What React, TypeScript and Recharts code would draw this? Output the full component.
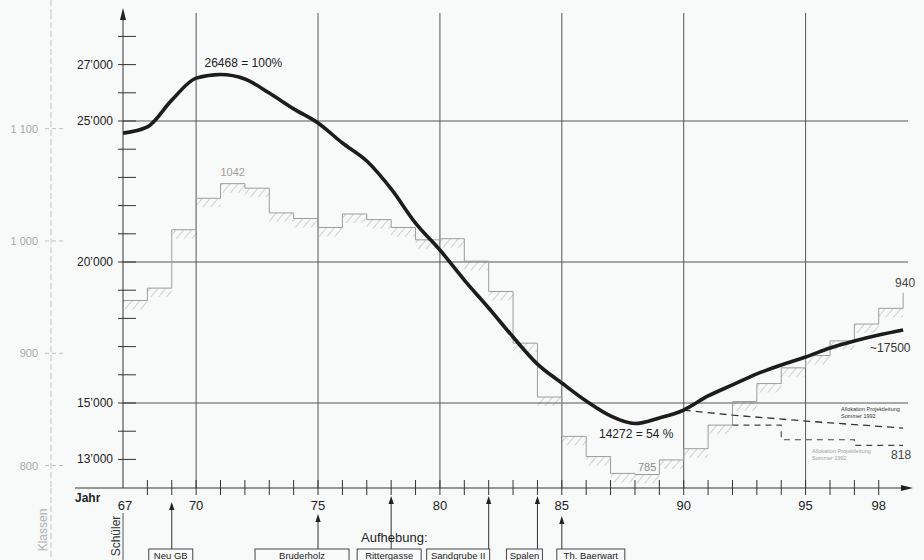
import React from 'react'
import {
  ComposedChart,
  Line,
  Area,
  XAxis,
  YAxis,
  ReferenceLine,
  ReferenceDot
} from 'recharts'

// Schuljahr (19xx)
const years = [67, 68, 69, 70, 71, 72, 73, 74, 75, 76, 77, 78, 79, 80, 81, 82, 83, 84, 85, 86, 87, 88, 89, 90, 91, 92, 93, 94, 95, 96, 97, 98, 99]
// Schülerzahl (linke Achse)
const schueler = [24570, 24790, 25740, 26520, 26650, 26490, 25990, 25430, 24930, 24220, 23580, 22590, 21380, 20425, 19360, 18370, 17340, 16380, 15710, 15070, 14540, 14272, 14470, 14750, 15250, 15640, 16030, 16350, 16630, 16950, 17200, 17410, 17590]
// Klassenzahl (äussere Achse), Treppe
const klassen = [947, 958, 1010, 1038, 1051, 1047, 1025, 1020, 1012, 1024, 1019, 1012, 1001, 1002, 982, 955, 909, 861, 826, 808, 793, 792, 805, 815, 836, 857, 873, 887, 898, 911, 926, 940, 954]

// Allokation Projektleitung Sommer 1992
const projSchuelerYears = [90, 92, 95, 99]
const projSchueler = [14750, 14570, 14360, 14110]
const projKlassenYears = [92, 94, 97, 99]
const projKlassen = [836, 823, 818, 818]

const yearTicks = [67, 68, 69, 70, 71, 72, 73, 74, 75, 76, 77, 78, 79, 80, 81, 82, 83, 84, 85, 86, 87, 88, 89, 90, 91, 92, 93, 94, 95, 96, 97, 98]
const yearLabels = [67, 70, 75, 80, 85, 90, 95, 98]
const gridYears = [70, 75, 80, 85, 90, 95]

const schuelerTicks = [13000, 14000, 15000, 16000, 17000, 18000, 19000, 20000, 21000, 22000, 23000, 24000, 25000, 26000, 27000, 28000]
const schuelerLabelValues = [13000, 15000, 20000, 25000, 27000]
const schuelerLabelTexts = ['13\u2019000', '15\u2019000', '20\u2019000', '25\u2019000', '27\u2019000']
const gridSchueler = [15000, 20000, 25000]

const klassenTicks = [800, 900, 1000, 1100]
const klassenLabelTexts = ['800', '900', '1 000', '1 100']

const events = [69, 75, 78, 82, 84, 85]
const eventLabels = ['Neu GB', 'Bruderholz', 'Rittergasse', 'Sandgrube II', 'Spalen', 'Th. Baerwart']

// box layout relative to the arrow (pixels)
const eventLayout: Record<string, { dx: number; w: number; tip: number }> = {
  'Neu GB': { dx: -23, w: 44, tip: 14 },
  'Bruderholz': { dx: -63, w: 94, tip: 26 },
  'Rittergasse': { dx: -34, w: 64, tip: 8 },
  'Sandgrube II': { dx: -62, w: 63, tip: 8 },
  'Spalen': { dx: -31, w: 36, tip: 8 },
  'Th. Baerwart': { dx: -5, w: 68, tip: 28 }
}

const FONT = '"Liberation Sans", Arial, Helvetica, sans-serif'
const INK = '#222'
const GREY = '#9c9c9c'
// axis ids: the inner axis (next to the plot) is the Schüler axis
const S = 'a'
const K = 'k'

const schuelerData = years.map((year, i) => ({ year, value: schueler[i] }))
const klassenData = years.map((year, i) => ({ year, value: klassen[i], band: [klassen[i] - 8, klassen[i]] }))
const projSchuelerData = projSchuelerYears.map((year, i) => ({ year, value: projSchueler[i] }))
const projKlassenData = projKlassenYears.map((year, i) => ({ year, value: projKlassen[i] }))

const valueAt = (arr: number[], yr: number) => arr[years.indexOf(yr)]

const YearTick = (props: any) => {
  const { x, y, payload } = props
  const v = payload.value
  return (
    <g>
      {v > 67 && <line x1={x} x2={x} y1={y - 8} y2={y + 7} stroke="#333" />}
      {yearLabels.includes(v) && (
        <text x={x + (v === 67 ? 2 : 0)} y={y + 22} textAnchor="middle" fontSize={13} fill={INK} fontFamily={FONT}>
          {v}
        </text>
      )}
    </g>
  )
}

const SchuelerTick = (props: any) => {
  const { x, y, payload } = props
  const idx = schuelerLabelValues.indexOf(payload.value)
  return (
    <g>
      <line x1={x - 5} x2={x + 13} y1={y} y2={y} stroke="#333" />
      {idx >= 0 && (
        <text x={x - 10} y={y} dy={4} textAnchor="end" fontSize={12} fill={INK} fontFamily={FONT}>
          {schuelerLabelTexts[idx]}
        </text>
      )}
    </g>
  )
}

const KlassenTick = (props: any) => {
  const { x, y, payload } = props
  const idx = klassenTicks.indexOf(payload.value)
  return (
    <g>
      <line x1={x - 6} x2={x + 15} y1={y} y2={y} stroke="#bdbdbd" strokeDasharray="4 3" />
      <text x={x - 13} y={y} dy={4} textAnchor="end" fontSize={11} fill="#a8a8a8" fontFamily={FONT}>
        {klassenLabelTexts[idx]}
      </text>
    </g>
  )
}

const note = (lines: string[], dx: number, dy: number, size: number, color: string, anchor = 'start', lineGap = 7) =>
  (p: any) => (
    <text x={p.cx + dx} y={p.cy + dy} fontSize={size} fill={color} textAnchor={anchor} fontFamily={FONT}>
      {lines.map((t, i) => (
        <tspan key={i} x={p.cx + dx} dy={i === 0 ? 0 : lineGap}>{t}</tspan>
      ))}
    </text>
  )

const eventShape = (label: string) => (p: any) => {
  const lay = eventLayout[label]
  const x = p.x1
  const base = Math.max(p.y1, p.y2)
  const tip = base + lay.tip
  const top = base + 61
  return (
    <g>
      <line x1={x} x2={x} y1={top} y2={tip + 6} stroke="#333" />
      <path d={`M${x},${tip} l-2.6,8 h5.2 z`} fill={INK} />
      <rect x={x + lay.dx} y={top} width={lay.w} height={20} fill="none" stroke="#444" />
      <text x={x + lay.dx + lay.w / 2} y={top + 10} textAnchor="middle" fontSize={9.5} fill={INK} fontFamily={FONT}>
        {label}
      </text>
    </g>
  )
}

export default function App() {
  return (
    <div
      style={{
        position: 'absolute',
        left: 0,
        top: 0,
        width: 924,
        height: 560,
        overflow: 'hidden',
        background: '#f8fafa',
        fontFamily: FONT
      }}
    >
      <ComposedChart width={924} height={560} margin={{ top: 13, right: 16, bottom: 0, left: 0 }}>
        <defs>
          <pattern id="hatch" width="6" height="6" patternUnits="userSpaceOnUse" patternTransform="rotate(40)">
            <line x1="0" y1="0" x2="0" y2="6" stroke="#a6a6a6" strokeWidth="1" />
          </pattern>
        </defs>
        <XAxis
          type="number"
          dataKey="year"
          domain={[67, 99.2]}
          allowDataOverflow
          ticks={yearTicks}
          interval={0}
          tick={YearTick}
          tickLine={false}
          tickSize={0}
          tickMargin={0}
          height={72}
          axisLine={{ stroke: '#333' }}
        />
        <YAxis
          yAxisId={S}
          type="number"
          domain={[11986, 28830]}
          allowDataOverflow
          ticks={schuelerTicks}
          interval={0}
          tick={SchuelerTick}
          tickLine={false}
          tickSize={0}
          tickMargin={0}
          width={72}
          axisLine={{ stroke: '#333' }}
        />
        <YAxis
          yAxisId={K}
          type="number"
          domain={[780, 1203]}
          allowDataOverflow
          ticks={klassenTicks}
          interval={0}
          tick={KlassenTick}
          tickLine={false}
          tickSize={0}
          tickMargin={0}
          width={51}
          axisLine={{ stroke: '#c4c4c4', strokeDasharray: '6 3' }}
        />

        {gridYears.map((yr) => (
          <ReferenceLine key={'gx' + yr} x={yr} yAxisId={S} stroke="#555" strokeWidth={1} />
        ))}
        {gridSchueler.map((v) => (
          <ReferenceLine key={'gy' + v} y={v} yAxisId={S} stroke="#555" strokeWidth={1} />
        ))}

        <Area
          data={klassenData}
          yAxisId={K}
          dataKey="band"
          type="stepAfter"
          stroke="none"
          fill="url(#hatch)"
          fillOpacity={1}
          isAnimationActive={false}
        />
        <Line
          data={klassenData}
          yAxisId={K}
          dataKey="value"
          type="stepAfter"
          stroke={GREY}
          strokeWidth={1}
          dot={false}
          isAnimationActive={false}
        />
        <Line
          data={projKlassenData}
          yAxisId={K}
          dataKey="value"
          type="stepAfter"
          stroke="#444"
          strokeWidth={1.1}
          strokeDasharray="6 5"
          dot={false}
          isAnimationActive={false}
        />
        <Line
          data={projSchuelerData}
          yAxisId={S}
          dataKey="value"
          type="linear"
          stroke="#333"
          strokeWidth={1.3}
          strokeDasharray="7 5"
          dot={false}
          isAnimationActive={false}
        />
        <Line
          data={schuelerData}
          yAxisId={S}
          dataKey="value"
          type="monotone"
          stroke="#1c1c1c"
          strokeWidth={3.6}
          dot={false}
          isAnimationActive={false}
        />

        <ReferenceDot x={71} y={valueAt(schueler, 71)} yAxisId={S} r={0} shape={note(['26468 = 100%'], -16, -7, 12, INK)} />
        <ReferenceDot x={88} y={valueAt(schueler, 88)} yAxisId={S} r={0} shape={note(['14272 = 54 %'], -36, 14, 12, INK)} />
        <ReferenceDot x={99} y={valueAt(schueler, 99)} yAxisId={S} r={0} shape={note(['~17500'], -33, 22, 12, '#333')} />
        <ReferenceDot x={71.5} y={valueAt(klassen, 71)} yAxisId={K} r={0} shape={note(['1042'], 0, -8, 11, GREY, 'middle')} />
        <ReferenceDot x={88.5} y={valueAt(klassen, 88)} yAxisId={K} r={0} shape={note(['785'], 0, -4, 11, '#8c8c8c', 'middle')} />
        <ReferenceDot x={99} y={valueAt(klassen, 99)} yAxisId={K} r={0} shape={note(['940'], 2, -6, 12, '#444', 'middle')} />
        <ReferenceDot x={99} y={projKlassen[projKlassen.length - 1]} yAxisId={K} r={0} shape={note(['818'], -12, 14, 12, '#444')} />
        <ReferenceDot
          x={99}
          y={projSchueler[projSchueler.length - 1]}
          yAxisId={S}
          r={0}
          shape={note(['Allokation Projektleitung', 'Sommer 1992'], -62, -17, 5.5, '#333')}
        />
        <ReferenceDot
          x={99}
          y={projKlassen[projKlassen.length - 1]}
          yAxisId={K}
          r={0}
          shape={note(['Allokation Projektleitung', 'Sommer 1992'], -91, 8, 5.5, '#a0a0a0')}
        />

        {events.map((yr, i) => (
          <ReferenceLine key={'ev' + yr} x={yr} yAxisId={S} stroke="none" shape={eventShape(eventLabels[i])} />
        ))}
      </ComposedChart>

      <svg
        width={924}
        height={560}
        style={{ position: 'absolute', left: 0, top: 0, pointerEvents: 'none' }}
        fontFamily={FONT}
      >
        <line x1={51} x2={51} y1={0} y2={13} stroke="#c4c4c4" strokeDasharray="6 3" />
        <line x1={51} x2={51} y1={488} y2={560} stroke="#c4c4c4" strokeDasharray="6 3" />
        <path d="M123,8 l-3,12 h6 z" fill={INK} />
        <line x1={75} x2={123} y1={488} y2={488} stroke="#333" />
        <path d="M913,488 l-12,-3 v6 z" fill={INK} />
        <text x={75} y={502} fontSize={12} fontWeight="bold" fill={INK}>Jahr</text>
        <text transform="translate(47,530) rotate(-90)" textAnchor="middle" fontSize={12} fill="#b0b0b0">Klassen</text>
        <text transform="translate(120,536) rotate(-90)" textAnchor="middle" fontSize={12} fill="#333">Schüler</text>
        <line x1={123} x2={123} y1={513} y2={560} stroke="#555" />
        <text x={361} y={542} fontSize={13} fill={INK}>Aufhebung:</text>
      </svg>
    </div>
  )
}
